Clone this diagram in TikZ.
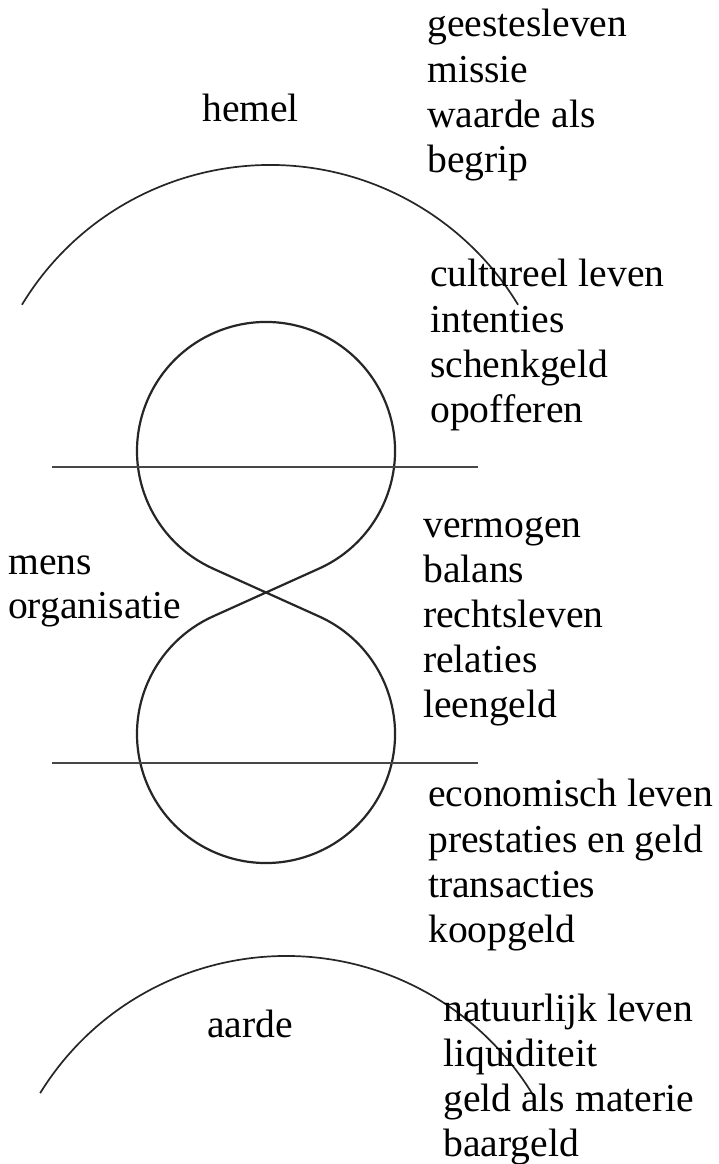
\documentclass[tikz,border=0pt]{standalone}
\usepackage{fontspec}
\setmainfont{Liberation Serif}
\begin{document}
\begin{tikzpicture}[x=1pt,y=1pt,
  lbl/.style={anchor=base west, inner sep=0pt, font=\fontsize{39.6}{45.3}\selectfont},
  eight/.style={line width=2.2pt, black!85},
  divider/.style={line width=2pt, black!72},
  sky/.style={line width=1.7pt, black!85}]
\useasboundingbox[fill=white] (0,0) rectangle (718,1164);

% centres
\coordinate (hc) at (270,709);
\coordinate (ac) at (286,-81);
\coordinate (c1) at (266,713);
\coordinate (c2) at (266,430);

% hemel arc
\draw[sky] (hc) ++(148.8:290) arc[start angle=148.8, end angle=31.2, radius=290];
% aarde arc
\draw[sky] (ac) ++(148.3:289) arc[start angle=148.3, end angle=31.7, radius=289];

% figure eight
\draw[eight] (c1) ++(245.75:129) coordinate (t1l)
  -- (319.0,547.6) coordinate (t2r)
  arc[start angle=65.75, end angle=-245.75, radius=129]
  -- (319.0,595.4) coordinate (t1r)
  arc[start angle=-65.75, end angle=245.75, radius=129] -- cycle;

% horizontal dividers
\coordinate (u1) at (52,697); \coordinate (u2) at (478,697);
\coordinate (l1) at (52,401); \coordinate (l2) at (478,401);
\draw[divider] (u1) -- (u2);
\draw[divider] (l1) -- (l2);

% labels
\node[lbl] (hemel) at (202,1042) {hemel};
\node[lbl] (aarde) at (207,126) {aarde};
\node[lbl] (mens) at (8,589) {mens};
\node[lbl] (organisatie) at (8,545) {organisatie};

\foreach \t [count=\i] in {geestesleven,missie,waarde als,begrip}
  \node[lbl] (g\i) at (427,{1127-45.2*(\i-1)}) {\t};
\foreach \t [count=\i] in {cultureel leven,intenties,schenkgeld,opofferen}
  \node[lbl] (c\i) at (430,{877-45.2*(\i-1)}) {\t};
\foreach \t [count=\i] in {vermogen,balans,rechtsleven,relaties,leengeld}
  \node[lbl] (v\i) at (423,{626-45.0*(\i-1)}) {\t};
\foreach \t [count=\i] in {economisch leven,prestaties en geld,transacties,koopgeld}
  \node[lbl] (e\i) at (428,{357-45.2*(\i-1)}) {\t};
\foreach \t [count=\i] in {natuurlijk leven,liquiditeit,geld als materie,baargeld}
  \node[lbl] (n\i) at (443,{142-45.0*(\i-1)}) {\t};
\end{tikzpicture}
\end{document}
